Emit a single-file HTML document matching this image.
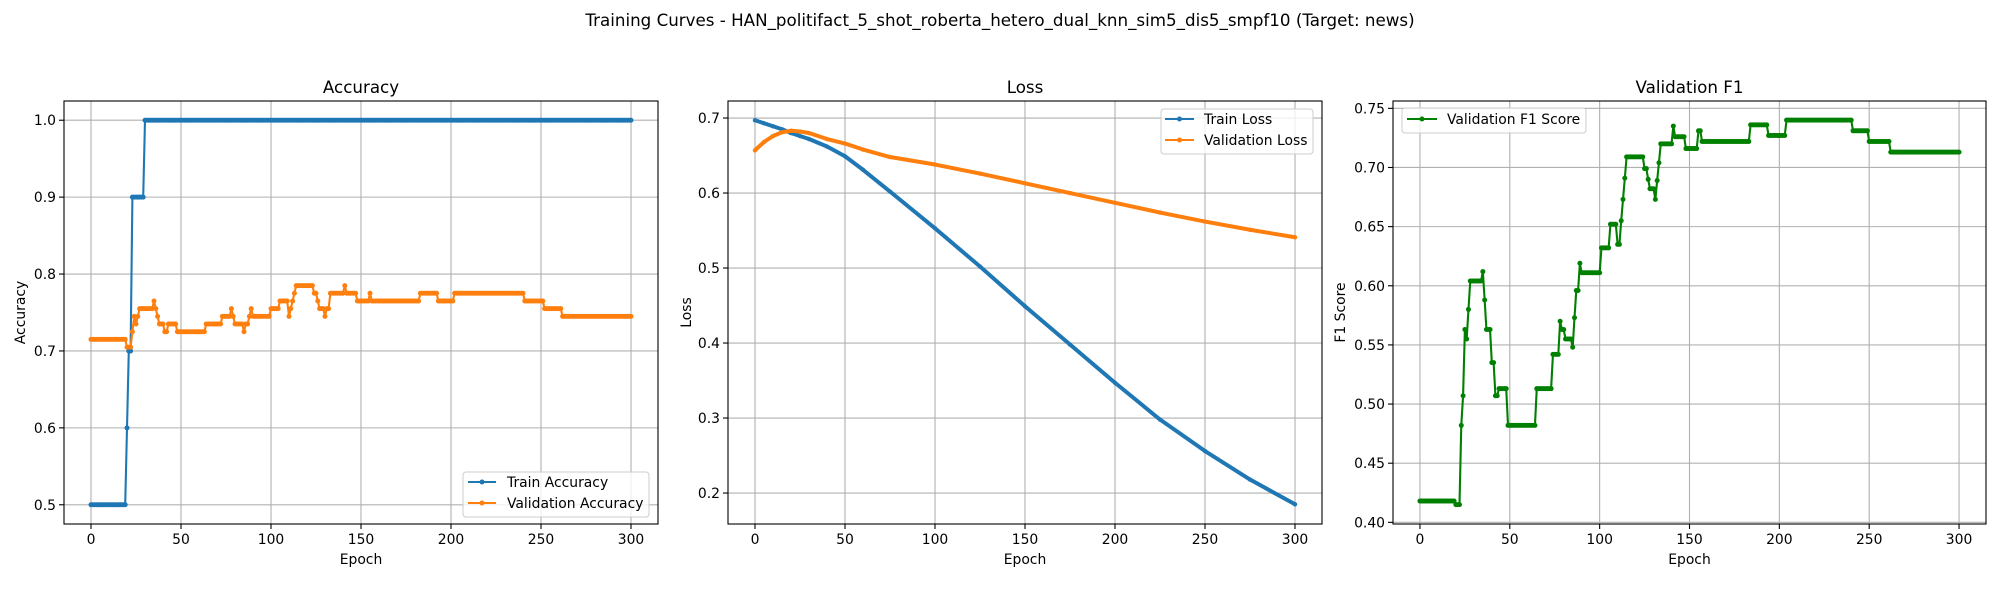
<!DOCTYPE html>
<html><head><meta charset="utf-8"><style>
html,body{margin:0;padding:0;background:#fff}
svg{display:block;font-family:"DejaVu Sans","Liberation Sans",sans-serif}
</style></head><body>
<svg id="fig" width="2000" height="600" viewBox="0 0 2000 600" xmlns="http://www.w3.org/2000/svg">
<rect width="2000" height="600" fill="#fff"/>
<text x="1000" y="26" text-anchor="middle" font-size="16.7">Training Curves - HAN_politifact_5_shot_roberta_hetero_dual_knn_sim5_dis5_smpf10 (Target: news)</text>
</svg>
<script>
// ---- Accuracy data (run starts by epoch, value held until next start) ----
const trainAccStart = [0,20,21,23,30];
const trainAccVal = [0.5,0.6,0.7,0.9,1.0];
const valAccStart = [0,20,23,24,25,26,27,35,36,37,38,41,43,48,64,73,78,79,80,85,86,88,89,90,100,105,110,111,112,113,114,124,126,127,130,131,133,141,142,148,155,156,183,193,202,241,252,262];
const valAccVal = [0.715,0.705,0.725,0.745,0.735,0.745,0.755,0.765,0.755,0.745,0.735,0.725,0.735,0.725,0.735,0.745,0.755,0.745,0.735,0.725,0.735,0.745,0.755,0.745,0.755,0.765,0.745,0.755,0.765,0.775,0.785,0.775,0.765,0.755,0.745,0.755,0.775,0.785,0.775,0.765,0.775,0.765,0.775,0.765,0.775,0.765,0.755,0.745];
// ---- Loss data (sampled epochs) ----
const lossEpochs = [0,5,10,15,20,25,30,40,50,60,75,100,125,150,175,200,225,250,275,300];
const trainLoss = [0.697,0.693,0.689,0.685,0.680,0.676,0.672,0.662,0.649,0.631,0.602,0.553,0.502,0.449,0.398,0.347,0.298,0.256,0.218,0.185];
const valLoss = [0.657,0.668,0.676,0.681,0.683,0.682,0.680,0.672,0.666,0.658,0.648,0.638,0.626,0.613,0.600,0.587,0.574,0.562,0.551,0.541];
// ---- F1 data (run starts by epoch) ----
const f1Start = [0,20,23,24,25,26,27,28,35,36,37,40,42,44,49,65,74,78,79,81,85,86,87,89,90,101,106,110,112,113,114,115,125,127,128,131,132,133,134,141,142,148,155,157,184,194,204,241,250,262];
const f1Val = [0.418,0.415,0.482,0.507,0.563,0.555,0.580,0.604,0.612,0.588,0.563,0.535,0.507,0.513,0.482,0.513,0.542,0.570,0.563,0.555,0.548,0.573,0.596,0.619,0.611,0.632,0.652,0.635,0.655,0.673,0.691,0.709,0.699,0.690,0.682,0.673,0.689,0.704,0.720,0.735,0.726,0.716,0.731,0.722,0.736,0.727,0.740,0.731,0.722,0.713];
const accTicks = [0.5,0.6,0.7,0.8,0.9,1.0];
const accTickLabels = ["0.5","0.6","0.7","0.8","0.9","1.0"];
const lossTicks = [0.2,0.3,0.4,0.5,0.6,0.7];
const lossTickLabels = ["0.2","0.3","0.4","0.5","0.6","0.7"];
const f1Ticks = [0.40,0.45,0.50,0.55,0.60,0.65,0.70,0.75];
const f1TickLabels = ["0.40","0.45","0.50","0.55","0.60","0.65","0.70","0.75"];
const xTicks = [0,50,100,150,200,250,300];
const xTickLabels = ["0","50","100","150","200","250","300"];
const LAST_EPOCH = 300;

const NS = "http://www.w3.org/2000/svg";
const svg = document.getElementById("fig");
function mk(tag, attrs, parent){
  const e = document.createElementNS(NS, tag);
  for (const k in attrs) e.setAttribute(k, attrs[k]);
  (parent||svg).appendChild(e);
  return e;
}
function expand(starts, vals){
  const ep=[], v=[];
  for(let i=0;i<starts.length;i++){
    const end = i+1<starts.length ? starts[i+1] : LAST_EPOCH+1;
    for(let e=starts[i]; e<end; e++){ ep.push(e); v.push(vals[i]); }
  }
  return [ep,v];
}
function makeAxes(c){
  const g = mk("g",{});
  
  
  const sx = v => c.left + (v - c.xmin)/(c.xmax-c.xmin)*(c.right-c.left);
  const sy = v => c.bottom - (v - c.ymin)/(c.ymax-c.ymin)*(c.bottom-c.top);
  xTicks.forEach((t,i)=>{
    const x=sx(t);
    const gl = mk("line",{x1:x,x2:x,y1:c.top,y2:c.bottom,stroke:"#b0b0b0","stroke-width":1.1},g);
    
    
    mk("line",{x1:x,x2:x,y1:c.bottom,y2:c.bottom+5,stroke:"#000","stroke-width":1.1},g);
    const tl = mk("text",{x:x,y:c.bottom+20,"text-anchor":"middle","font-size":13.9},g);
    tl.textContent = xTickLabels[i];
    
    
  });
  c.yticks.forEach((t,i)=>{
    const y=sy(t);
    const gl = mk("line",{x1:c.left,x2:c.right,y1:y,y2:y,stroke:"#b0b0b0","stroke-width":1.1},g);
    
    
    mk("line",{x1:c.left-5,x2:c.left,y1:y,y2:y,stroke:"#000","stroke-width":1.1},g);
    const tl = mk("text",{x:c.left-8,y:y+5,"text-anchor":"end","font-size":13.9},g);
    tl.textContent = c.ylabels[i];
    
    
  });
  const title = mk("text",{x:(c.left+c.right)/2,y:93,"text-anchor":"middle","font-size":16.7},g);
  title.textContent = c.title;
  
  
  const xl = mk("text",{x:(c.left+c.right)/2,y:564,"text-anchor":"middle","font-size":13.9},g);
  xl.textContent = "Epoch";
  
  
  const ylx = c.ylabelX, yly=(c.top+c.bottom)/2;
  const yl = mk("text",{x:ylx,y:yly,"text-anchor":"middle","font-size":13.9,transform:`rotate(-90 ${ylx} ${yly}) translate(0 5)`},g);
  yl.textContent = c.ylabel;
  
  
  c.g=g; c.sx=sx; c.sy=sy;
  return c;
}
function series(c, xs, ys, color, name, lw, r){
  const g = mk("g",{},c.g);
  
  
  const pts = xs.map((x,i)=>c.sx(x).toFixed(2)+","+c.sy(ys[i]).toFixed(2)).join(" ");
  mk("polyline",{points:pts,fill:"none",stroke:color,"stroke-width":lw,"stroke-linejoin":"round","stroke-linecap":"round"},g);
  xs.forEach((x,i)=>{
    const p = mk("circle",{cx:c.sx(x),cy:c.sy(ys[i]),r:r,fill:color},g);
    
    
  });
}
function spines(c){
  const s = mk("rect",{x:c.left,y:c.top,width:c.right-c.left,height:c.bottom-c.top,fill:"none",stroke:"#000","stroke-width":1.1},c.g);
  
  
}
function legend(c, x, y, w, h, entries, lineX1, lineX2, textX){
  const g = mk("g",{},c.g);
  
  
  mk("rect",{x:x,y:y,width:w,height:h,rx:3,fill:"#fff","fill-opacity":0.8,stroke:"#cccccc","stroke-width":1},g);
  entries.forEach(e=>{
    const eg = mk("g",{},g);
    
    
    mk("line",{x1:lineX1,x2:lineX2,y1:e.y,y2:e.y,stroke:e.color,"stroke-width":2.1},eg);
    mk("circle",{cx:(lineX1+lineX2)/2,cy:e.y,r:2.5,fill:e.color},eg);
    const t = mk("text",{x:textX,y:e.y+5,"font-size":13.9},eg);
    t.textContent = e.label;
  });
}
const common = {xmin:-15,xmax:315,top:101,bottom:524};
const acc = makeAxes(Object.assign({},common,{name:"accuracy-axes",left:64,right:658,ymin:0.475,ymax:1.025,yticks:accTicks,ylabels:accTickLabels,title:"Accuracy",ylabel:"Accuracy",ylabelX:20}));
const loss = makeAxes(Object.assign({},common,{name:"loss-axes",left:728,right:1322,ymin:0.1587,ymax:0.7227,yticks:lossTicks,ylabels:lossTickLabels,title:"Loss",ylabel:"Loss",ylabelX:686}));
const f1 = makeAxes(Object.assign({},common,{name:"f1-axes",left:1393,right:1986,ymin:0.3986,ymax:0.7562,yticks:f1Ticks,ylabels:f1TickLabels,title:"Validation F1",ylabel:"F1 Score",ylabelX:1340}));

let d = expand(trainAccStart, trainAccVal);
series(acc, d[0], d[1], "#1f77b4", "train-accuracy-line", 2.1, 2.5);
d = expand(valAccStart, valAccVal);
series(acc, d[0], d[1], "#ff7f0e", "validation-accuracy-line", 2.1, 2.5);
series(loss, lossEpochs, trainLoss, "#1f77b4", "train-loss-line", 4, 2.2);
series(loss, lossEpochs, valLoss, "#ff7f0e", "validation-loss-line", 4, 2.2);
d = expand(f1Start, f1Val);
series(f1, d[0], d[1], "#008000", "validation-f1-line", 2.1, 2.5);
[acc,loss,f1].forEach(spines);

legend(acc, 463, 472, 186, 45, [{y:482,color:"#1f77b4",label:"Train Accuracy"},{y:503,color:"#ff7f0e",label:"Validation Accuracy"}], 468, 496, 507);
legend(loss, 1161, 109, 152, 45, [{y:119,color:"#1f77b4",label:"Train Loss"},{y:140,color:"#ff7f0e",label:"Validation Loss"}], 1165, 1194, 1204);
legend(f1, 1402, 108, 184, 25, [{y:119,color:"#008000",label:"Validation F1 Score"}], 1407, 1437, 1447);
</script>
</body></html>
